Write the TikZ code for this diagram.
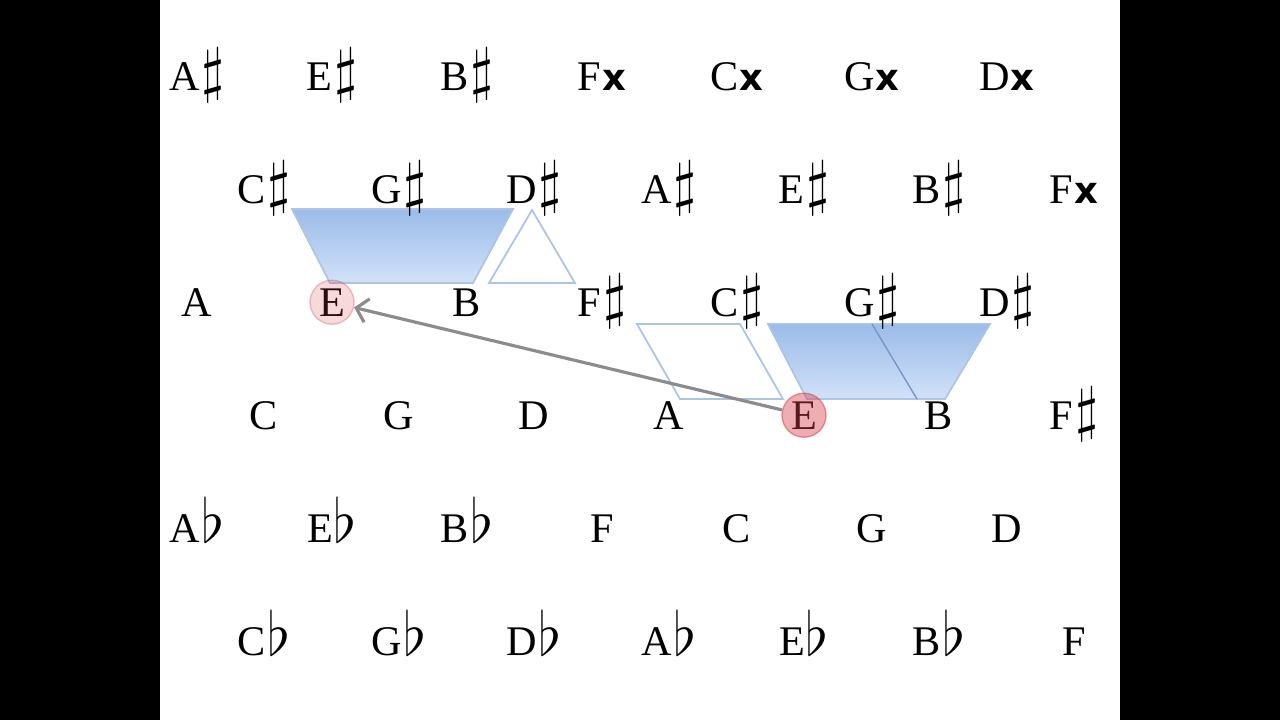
\documentclass[tikz,border=0pt]{standalone}
\usepackage{fontspec}
\setmainfont{Liberation Serif}
\newfontfamily\accfont{DejaVu Sans}
\usetikzlibrary{arrows.meta}

\definecolor{shapeblue}{RGB}{155,187,233}
\definecolor{paleblue}{RGB}{210,226,248}
\definecolor{edgeblue}{RGB}{172,196,230}
\definecolor{lineblue}{RGB}{120,150,200}
\definecolor{hlred}{RGB}{215,60,75}
\definecolor{arrowgray}{RGB}{140,140,140}

\newcommand{\sh}{{\fontsize{17}{17}\selectfont\kern0.6pt$\sharp$}}
\newcommand{\fl}{{\fontsize{17}{17}\selectfont\kern0.3pt$\flat$}}
\newcommand{\dsh}{{\accfont\bfseries\fontsize{10.5}{10}\selectfont\kern0.3pt x}}

\tikzset{
  note/.style={anchor=base, inner sep=1pt, font=\fontsize{12}{14}\selectfont},
  hilite/.style={circle, minimum size=0.44cm, inner sep=0pt, draw=hlred, fill=hlred},
  shapeedge/.style={draw=edgeblue, line width=0.5pt},
}

\begin{document}
\begin{tikzpicture}[x=0.01cm, y=-0.01cm]
  % frame
  \fill[black] (0,0) rectangle (1280,720);
  \fill[white] (160,0) rectangle (1120,720);

  % shapes
  \draw[shapeedge, top color=shapeblue, bottom color=paleblue] (292,209) -- (513,209) -- (473,283) -- (330,283) -- cycle;
  \draw[shapeedge, fill=white] (532,210) -- (575,283) -- (489,283) -- cycle;
  \draw[shapeedge, fill=white] (637,324) -- (740,324) -- (783,399) -- (680,399) -- cycle;
  \draw[shapeedge, top color=shapeblue, bottom color=paleblue] (768,324) -- (990,324) -- (945,399) -- (807,399) -- cycle;
  \draw[lineblue, line width=0.4pt] (872,324) -- (917,399);

  % notes
  \foreach \lab [count=\i from 0] in {A\sh,E\sh,B\sh,F\dsh,C\dsh,G\dsh,D\dsh}
    \node[note] (r1-\i) at (197+135*\i,90) {\lab};
  \foreach \lab [count=\i from 0] in {C\sh,G\sh,D\sh,A\sh,E\sh,B\sh,F\dsh}
    \node[note] (r2-\i) at (264+135*\i,203) {\lab};
  \foreach \lab [count=\i from 0] in {A,E,B,F\sh,C\sh,G\sh,D\sh}
    \node[note] (r3-\i) at (197+135*\i,316) {\lab};
  \foreach \lab [count=\i from 0] in {C,G,D,A,E,B,F\sh}
    \node[note] (r4-\i) at (264+135*\i,429) {\lab};
  \foreach \lab [count=\i from 0] in {A\fl,E\fl,B\fl,F,C,G,D}
    \node[note] (r5-\i) at (197+135*\i,542) {\lab};
  \foreach \lab [count=\i from 0] in {C\fl,G\fl,D\fl,A\fl,E\fl,B\fl,F}
    \node[note] (r6-\i) at (264+135*\i,655) {\lab};

  % highlighted E's
  \node[hilite, fill opacity=0.2, draw opacity=0.3] (eL) at (r3-1.center) {};
  \node[hilite, fill opacity=0.42, draw opacity=0.5] (eR) at (r4-4.center) {};

  \draw[arrowgray, line width=0.9pt, -{Straight Barb[length=1.1mm,width=2.4mm]}] (eR) -- (eL);
\end{tikzpicture}
\end{document}
